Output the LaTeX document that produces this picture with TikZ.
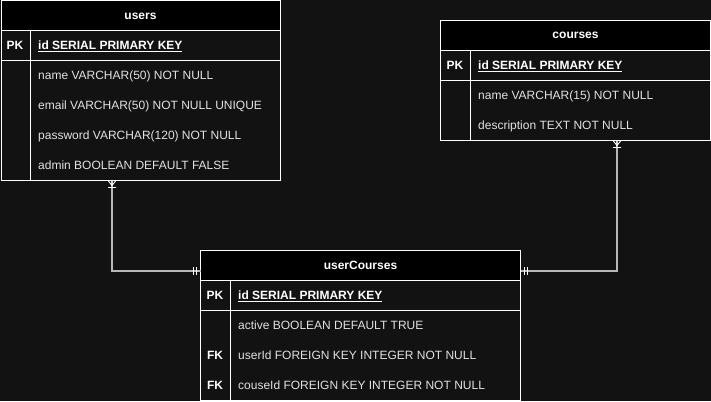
\documentclass[tikz,border=0pt]{standalone}
\usepackage{fontspec}
\setmainfont{Liberation Sans}
\usetikzlibrary{positioning}

\definecolor{canvas}{HTML}{121212}
\definecolor{fieldtext}{HTML}{E2E2E2}
\definecolor{linkgray}{HTML}{B8B8B8}

\tikzset{
	tbl/.style={draw=white, fill=canvas, line width=1pt, inner sep=0pt},
	head/.style={draw=white, fill=black, line width=1pt, inner sep=0pt, anchor=north, text=white, font=\fontsize{12}{14}\selectfont\bfseries},
	key/.style={text=white, font=\fontsize{12}{14}\selectfont\bfseries, anchor=base},
	field/.style={text=fieldtext, font=\fontsize{12}{14}\selectfont, anchor=base west, inner sep=0pt},
	grid/.style={draw=white, line width=1pt},
	link/.style={draw=linkgray, line width=1.2pt},
	crowfoot/.pic={\draw[white, line width=0.9pt] (-4,0) -- (0,5) -- (4,0) (0,0) -- (0,5) (-4,7) -- (4,7);},
	onebars/.pic={\draw[white, line width=0.9pt] (-7,-4) -- (-7,4) (-4,-4) -- (-4,4);}
}

\begin{document}
\begin{tikzpicture}[x=1pt, y=-1pt]
	
	\fill[canvas] (0,0) rectangle (711,401);
	\useasboundingbox (0,0) rectangle (711,401);
	
	% users
	\node[tbl, minimum width=279pt, minimum height=179pt] (users) at (140.5,90.5) {};
	\node[head, minimum width=279pt, minimum height=30pt] (usersHead) at (users.north) {users};
	\draw[grid] (0.5,60.5) -- (280,60.5) (30.5,30.5) -- (30.5,180);
	\node[key] at (15,49.5) {PK};
	\node[field, text=white, font=\fontsize{12}{14}\selectfont\bfseries] at (38,49.5) {\underline{id SERIAL PRIMARY KEY}};
	\node[field] at (38,79.5) {name VARCHAR(50) NOT NULL};
	\node[field] at (38,109.5) {email VARCHAR(50) NOT NULL UNIQUE};
	\node[field] at (38,139.5) {password VARCHAR(120) NOT NULL};
	\node[field] at (38,169.5) {admin BOOLEAN DEFAULT FALSE};
	
	% courses
	\node[tbl, minimum width=270pt, minimum height=120pt] (courses) at (575.5,80.5) {};
	\node[head, minimum width=270pt, minimum height=30pt] (coursesHead) at (courses.north) {courses};
	\draw[grid] (440.5,80.5) -- (710.5,80.5) (470.5,50.5) -- (470.5,140.5);
	\node[key] at (455,69.5) {PK};
	\node[field, text=white, font=\fontsize{12}{14}\selectfont\bfseries] at (478,69.5) {\underline{id SERIAL PRIMARY KEY}};
	\node[field] at (478,99.5) {name VARCHAR(15) NOT NULL};
	\node[field] at (478,129.5) {description TEXT NOT NULL};
	
	% userCourses
	\node[tbl, minimum width=320pt, minimum height=150pt] (uc) at (360.5,325.5) {};
	\node[head, minimum width=320pt, minimum height=30pt] (ucHead) at (uc.north) {userCourses};
	\draw[grid] (200.5,310.5) -- (520.5,310.5) (230.5,280.5) -- (230.5,400.5);
	\node[key] at (215,299.5) {PK};
	\node[field, text=white, font=\fontsize{12}{14}\selectfont\bfseries] at (238,299.5) {\underline{id SERIAL PRIMARY KEY}};
	\node[field] at (238,329.5) {active BOOLEAN DEFAULT TRUE};
	\node[key] at (215,359.5) {FK};
	\node[field] at (238,359.5) {userId FOREIGN KEY INTEGER NOT NULL};
	\node[key] at (215,389.5) {FK};
	\node[field] at (238,389.5) {couseId FOREIGN KEY INTEGER NOT NULL};
	
	% relations
	\coordinate (usersFoot) at (112,180.5);
	\coordinate (coursesFoot) at (617,140.5);
	\coordinate (ucLeft) at (200.5,271);
	\coordinate (ucRight) at (520.5,271);
	
	\draw[link] (usersFoot) |- (ucLeft);
	\draw[link] (coursesFoot) |- (ucRight);
	\pic at (usersFoot) {crowfoot};
	\pic at (coursesFoot) {crowfoot};
	\pic at (ucLeft) {onebars};
	\pic[rotate=180] at (ucRight) {onebars};
	
\end{tikzpicture}
\end{document}
